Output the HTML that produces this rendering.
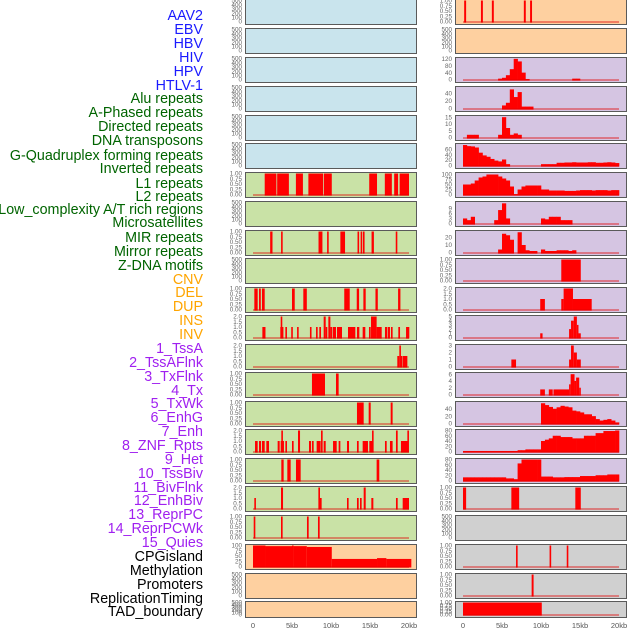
<!DOCTYPE html>
<html><head><meta charset="utf-8"><style>
html,body{margin:0;padding:0;background:#fff;}
svg{display:block;font-family:"Liberation Sans",sans-serif;}
</style></head><body>
<svg id="chart" width="630" height="630" viewBox="0 0 630 630" xmlns="http://www.w3.org/2000/svg"></svg>
<script>
const rowLabels=["AAV2","EBV","HBV","HIV","HPV","HTLV-1","Alu repeats","A-Phased repeats","Directed repeats","DNA transposons","G-Quadruplex forming repeats","Inverted repeats","L1 repeats","L2 repeats","Low_complexity A/T rich regions","Microsatellites","MIR repeats","Mirror repeats","Z-DNA motifs","CNV","DEL","DUP","INS","INV","1_TssA","2_TssAFlnk","3_TxFlnk","4_Tx","5_TxWk","6_EnhG","7_Enh","8_ZNF_Rpts","9_Het","10_TssBiv","11_BivFlnk","12_EnhBiv","13_ReprPC","14_ReprPCWk","15_Quies","CPGisland","Methylation","Promoters","ReplicationTiming","TAD_boundary"];
const labelY=[15,29,43,57,71,85,98,112,126,140,155,168,183,196,209,222,237,251,265,279,292,306,320,334,348,362,376,390,403,417,431,445,459,473,487,500,514,528,542,556,570,584,598,611];
const labelColors=["#1a1aff","#006400","#ffa500","#a020f0","#000"];
const labelGroupSizes=[6,13,5,15,5];
const xTicks=[0,5,10,15,20];
const xTickLabels=["0","5kb","10kb","15kb","20kb"];

const leftBg=["b","b","b","b","b","b","g","g","g","g","g","g","g","g","g","g","g","g","g","p","p","p"];
const rightBg=["p","p","l","l","l","l","l","l","l","l","l","l","l","l","l","l","l","y","y","y","y","y"];
const leftTicks=["E","E","E","E","E","E","U","E","U","E","U","T","T","U","U","T","U","T","U","C","E","E"];
const rightTicks=["U","E",[0,40,80,120],[0,20,40],[0,5,10,15],[0,20,40,60],[0,25,50,75,100],[0,3,6,9],[0,10,20],"U","T",[0,1,2,3,4,5],[0,1,2,3],[0,2,4,6],[0,20,40],[0,20,40,60,80],[0,20,40,60,80],"U","E","U","U","U"];
const rightMax=[1,500,122,55,15.5,77,105,12.5,28,1,2,5,3,6.2,57,80,80,1,500,1,1,1];

const left6=[[1.5,3.0,1],[3.1,4.6,1],[5.5,6.4,1],[7.1,9.0,1],[9.1,10.1,1],[14.9,15.9,1],[16.9,17.8,1],[18.1,18.6,1],[18.8,20.0,1]];
const left8=[[2.2,2.5,1],[3.6,3.8,1],[8.4,8.9,1],[9.5,9.7,1],[11.2,11.8,1],[13.4,13.6,1],[13.8,14.0,1],[14.1,14.3,1],[15.2,15.5,1],[18.3,18.5,1]];
const left10=[[0.17,0.6,1],[0.77,1.0,1],[1.15,1.5,1],[5.0,5.35,1],[6.45,6.9,1],[11.7,12.4,1],[13.3,13.6,1],[14.15,14.45,1],[15.7,16.0,1],[18.6,18.9,1]];
const left11=[[1.2,1.6,1],[3.5,3.9,1],[3.55,3.75,2],[4.15,4.35,1],[4.9,5.1,1],[5.65,5.85,1],[7.3,7.5,1],[8.08,8.29,1],[8.5,8.72,1],[9.06,9.32,2],[9.32,9.49,1],[9.66,9.92,2],[9.92,10.09,1],[10.21,10.64,1],[10.77,11.41,1],[12.18,13.12,1],[13.33,13.63,1],[14.06,14.4,1],[14.87,15.09,1],[15.13,15.85,2],[15.85,16.5,1],[16.92,17.22,1],[17.3,17.56,1],[17.69,17.9,1],[18.63,18.85,1],[19.62,20.04,1]];
const left12=[[18.5,18.76,1],[18.76,18.93,2],[18.93,19.06,1],[19.19,19.79,1]];
const left13=[[7.56,9.23,1],[10.64,10.98,1]];
const left14=[[13.33,14.19,1],[14.83,15.09,1],[17.65,17.9,1]];
const left15=[[0.26,0.6,1],[0.77,1.03,1],[1.15,1.5,1],[1.71,2.05,1],[3.16,3.42,1],[3.55,3.97,1],[3.63,3.8,2],[4.15,4.36,1],[5.0,5.21,1],[5.77,6.03,2],[7.18,7.44,1],[7.56,7.78,1],[8.16,8.67,1],[8.72,8.93,2],[9.06,9.32,1],[10.26,10.73,1],[10.98,11.2,1],[12.05,12.31,1],[13.33,13.55,1],[14.06,14.74,1],[14.91,15.43,1],[15.26,15.38,2],[16.92,17.14,1],[17.56,17.9,1],[18.33,18.55,2],[18.97,19.83,1],[19.79,19.96,2]];
const left16=[[3.63,3.93,1],[4.4,4.83,1],[5.51,6.11,1],[15.85,16.19,1]];
const left17=[[0.17,0.34,1],[3.59,3.85,2],[8.38,8.59,2],[8.59,8.8,1],[12.05,12.26,1],[13.33,13.55,1],[13.72,13.93,1],[14.19,14.45,2],[15.17,15.43,1],[18.33,18.55,1],[19.19,20.0,1]];
const left18=[[0.09,0.3,1],[3.59,3.8,1],[6.92,7.14,1],[8.33,8.55,1]];
const left19=[[0,1.6,100],[1.6,5.0,97],[5.0,5.2,100],[5.2,6.9,97],[6.9,10.1,93],[10.1,15.9,36],[15.9,17.1,40],[17.1,20.3,36]];

const right0=[[0.15,0.4,1],[2.3,2.55,1],[3.7,3.95,1],[7.8,8.05,1],[8.6,8.85,1]];
const right9=[[12.6,15.1,1]];
const right10=[[9.9,10.5,1],[12.6,12.9,1],[12.9,14.1,2],[14.1,16.5,1]];
const right11=[[9.9,10.2,1],[13.6,13.85,2],[13.85,14.2,4],[14.2,14.6,5],[14.6,14.8,3],[14.8,15.1,1]];
const right12=[[6.2,6.8,1],[13.6,13.85,1],[13.85,14.2,3],[14.2,14.6,2],[14.6,15.1,1]];
const right13=[[9.9,10.5,1.5],[11.0,11.5,1.5],[11.6,13.6,1.5],[13.6,13.8,3],[13.8,14.3,6],[14.3,14.5,4],[14.5,14.9,5],[14.9,15.1,2]];
const right17=[[0,0.4,1],[6.2,7.2,1],[14.4,15.1,1]];
const right19=[[6.8,7.0,1],[11.1,11.3,1],[13.3,13.5,1]];
const right20=[[8.8,9.05,1]];
const right21=[[0,10.1,1]];

const bins2=[0,0,0,0,0,0,0,0,0,5,10,25,60,120,105,40,3,0,0,0,0,0,0,0,0,0,0,0,5,5,0,0,0,0,0,0,0,0,0,0];
const bins3=[0,0,0,0,0,0,0,0,0,0,8,15,50,30,43,5,5,5,0,0,0,0,0,0,0,0,0,0,0,0,0,0,0,0,0,0,0,0,0,0];
const bins4=[0,2,2,2,0,0,0,0,0,2,15,7,2,3,2,0,0,0,0,0,0,0,0,0,0,0,0,0,0,0,0,0,0,0,0,0,0,0,0,0];
const bins5=[75,71,70,66,47,37,32,24,18,15,22,5,0,0,0,0,0,0,0,0,5,5,5,5,10,10,11,11,12,11,11,11,12,12,10,10,11,12,11,9];
const bins6=[50,50,55,70,85,90,100,100,100,90,80,70,40,2,25,40,45,45,45,45,25,25,20,20,20,20,18,18,18,20,22,22,22,20,22,22,22,20,22,22];
const bins7=[3,2,4,0,0,0,0,0,2,8,12,3,0,0,0,0,0,0,0,0,3,2.5,4,4,4,2,2,2,0,0,0,0,0,0,0,0,0,0,0,0];
const bins8=[0,0,0,0,0,0,0,0,0,4,25,23,17,0,27,10,3,2,2,0,4,2,2,2,3,3,3,2,3,0,0,0,0,0,0,0,0,0,0,0];
const bins14=[0,0,0,0,0,0,0,0,0,0,0,0,0,0,0,0,0,0,0,0,55,50,45,40,44,48,46,44,35,33,30,25,25,20,12,8,10,12,8,3];
const bins15=[2,2,2,2,2,2,2,2,2,2,2,2,2,2,5,5,8,8,8,8,40,45,50,60,60,55,55,55,50,50,50,60,60,60,70,70,78,78,78,80];
const bins16=[12,12,12,12,12,12,12,12,12,12,12,8,8,5,65,80,80,80,80,80,15,15,15,12,12,12,13,13,13,13,17,17,17,17,20,20,20,23,23,23];

const leftData={6:left6,8:left8,10:left10,11:left11,12:left12,13:left13,14:left14,15:left15,16:left16,17:left17,18:left18,19:left19};
const leftMax={6:1,8:1,10:1,11:2,12:2,13:1,14:1,15:2,16:1,17:2,18:1,19:100};
const rightIntervals={0:right0,9:right9,10:right10,11:right11,12:right12,13:right13,17:right17,19:right19,20:right20,21:right21};
const rightBins={2:bins2,3:bins3,4:bins4,5:bins5,6:bins6,7:bins7,8:bins8,14:bins14,15:bins15,16:bins16};

const svg=document.getElementById('chart');
const NS="http://www.w3.org/2000/svg";
function mk(tag,attrs){const e=document.createElementNS(NS,tag);for(const k in attrs)e.setAttribute(k,attrs[k]);return e;}
const bgColors={b:"#c9e4ed",g:"#c9e2a6",p:"#fed0a0",l:"#d5c5e2",y:"#d0d0d0"};
const rowTops=[-1,28,57,86,115,143,172,201,230,258,287,315,344,372,401,429,458,486,515,544,573,601];
const cols=[{x:245,w:171,k0:253},{x:455,w:171,k0:463}];
const PXKB=7.8;
function xScale(c,kb){return cols[c].k0+kb*PXKB;}
function rowH(r){return r===21?16:25;}
function yScale(r,v,max){const top=rowTops[r],h=rowH(r);const base=top+h-2.5,yt=top+1.5;return base-(v/max)*(base-yt);}
function tickSet(spec){
  if(spec==="E")return {vals:[0,100,200,300,400,500],labs:["0","100","200","300","400","500"],max:500};
  if(spec==="U")return {vals:[0,0.25,0.5,0.75,1],labs:["0.00","0.25","0.50","0.75","1.00"],max:1};
  if(spec==="T")return {vals:[0,0.5,1,1.5,2],labs:["0.0","0.5","1.0","1.5","2.0"],max:2};
  if(spec==="C")return {vals:[0,25,50,75,100],labs:["0","25","50","75","100"],max:100};
  return {vals:spec,labs:spec.map(String),max:null};
}

let li=0;
labelGroupSizes.forEach((n,g)=>{for(let i=0;i<n;i++){const t=mk('text',{x:203,y:labelY[li]+5,'text-anchor':'end','font-size':'14.3',fill:labelColors[g]});t.textContent=rowLabels[li];


svg.appendChild(t);li++;}});

for(let r=0;r<22;r++){
  for(let c=0;c<2;c++){
    const top=rowTops[r],h=rowH(r),px=cols[c].x;
    const g=mk('g',{});
    
    
    svg.appendChild(g);
    const bg=c===0?leftBg[r]:rightBg[r];
    const rect=mk('rect',{x:px+0.5,y:top+0.5,width:cols[c].w,height:h,fill:bgColors[bg],stroke:"#5a5a5a","stroke-width":1});
    
    
    g.appendChild(rect);
    const ts=tickSet(c===0?leftTicks[r]:rightTicks[r]);
    const mx=c===0?(leftMax[r]||ts.max):rightMax[r];
    ts.vals.forEach((v,i)=>{
      const y=yScale(r,v,mx);
      const t=mk('text',{x:px-3,y:y+2.2,'text-anchor':'end','font-size':'6.3',fill:'#666'});
      t.textContent=ts.labs[i];
      
      
      g.appendChild(t);
    });
    let hasData=false;
    const base=yScale(r,0,mx);
    const ints=c===0?leftData[r]:rightIntervals[r];
    if(ints){hasData=true;ints.forEach(d=>{
      const x1=xScale(c,d[0]),x2=xScale(c,d[1]);const y=yScale(r,d[2],mx);
      const b=mk('rect',{x:x1,y:y,width:Math.max(1.6,x2-x1),height:base-y+1,fill:'#ff0000'});
      
      
      g.appendChild(b);});}
    const bins=c===1?rightBins[r]:null;
    if(bins){hasData=true;bins.forEach((v,i)=>{if(v<=0)return;
      const x1=xScale(c,i*0.5),x2=xScale(c,i*0.5+0.5);const y=yScale(r,v,mx);
      const b=mk('rect',{x:x1,y:y,width:x2-x1+0.3,height:base-y+1,fill:'#ff0000'});
      
      
      g.appendChild(b);});}
    if(hasData){
      const l=mk('line',{x1:xScale(c,0),x2:xScale(c,20),y1:base+0.5,y2:base+0.5,stroke:'#e00000','stroke-opacity':0.4,'stroke-width':2});
      
      
      g.appendChild(l);
    }
  }
}
for(let c=0;c<2;c++){xTicks.forEach((k,i)=>{
  const t=mk('text',{x:xScale(c,k),y:628,'text-anchor':'middle','font-size':'7.5',fill:'#555'});
  t.textContent=xTickLabels[i];
  
  
  svg.appendChild(t);});}
</script>
</body></html>
